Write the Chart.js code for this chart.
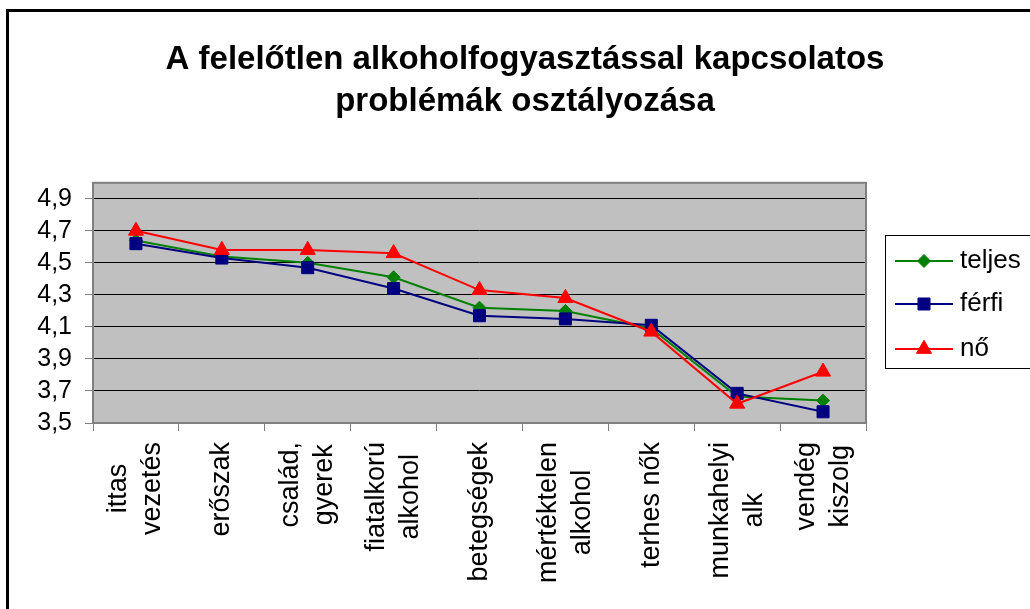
<!DOCTYPE html>
<html>
<head>
<meta charset="utf-8">
<script src="https://cdn.jsdelivr.net/npm/chart.js@4"></script>
<style>
  html, body { margin: 0; padding: 0; background: #fff; }
  canvas { display: block; }
</style>
</head>
<body>
<canvas id="chart" width="1030" height="609"></canvas>
<script>
const titleLines = ['A felelőtlen alkoholfogyasztással kapcsolatos', 'problémák osztályozása'];
const categories = [
  ['ittas', 'vezetés'], ['erőszak'], ['család,', 'gyerek'], ['fiatalkorú', 'alkohol'],
  ['betegségek'], ['mértéktelen', 'alkohol'], ['terhes nők'], ['munkahelyi', 'alk'], ['vendég', 'kiszolg']
];
const seriesNames = ['teljes', 'férfi', 'nő'];
const teljes = [4.64, 4.54, 4.50, 4.41, 4.22, 4.20, 4.09, 3.665, 3.64];
const ferfi = [4.62, 4.53, 4.47, 4.34, 4.17, 4.15, 4.11, 3.685, 3.57];
const no = [4.70, 4.58, 4.58, 4.56, 4.33, 4.28, 4.07, 3.62, 3.82];
const yTicks = [3.5, 3.7, 3.9, 4.1, 4.3, 4.5, 4.7, 4.9];

const FONT = "'Liberation Sans', Arial, sans-serif";

// grey plot area with a grey frame, like the old Excel charts
const plotFrame = {
  id: 'plotFrame',
  beforeDraw(chart) {
    const {ctx, chartArea: a} = chart;
    ctx.save();
    ctx.fillStyle = '#c0c0c0';
    ctx.fillRect(a.left, a.top, a.right - a.left, a.bottom - a.top);
    ctx.restore();
  },
  beforeDatasetsDraw(chart) {
    const {ctx, chartArea: a} = chart;
    ctx.save();
    ctx.strokeStyle = '#808080';
    ctx.lineWidth = 2;
    ctx.strokeRect(a.left, a.top, a.right - a.left, a.bottom - a.top);
    ctx.restore();
  },
  afterDraw(chart) {
    // black frame round the whole chart (right and bottom edges fall outside)
    const ctx = chart.ctx;
    ctx.save();
    ctx.strokeStyle = '#000';
    ctx.lineWidth = 3;
    ctx.strokeRect(7.5, 10.5, 1100, 700);
    ctx.restore();
  }
};

// title is centred over the whole picture, not only the part left of the legend
const titleShift = {
  id: 'titleShift',
  afterLayout(chart) {
    if (chart.titleBlock) {
      chart.titleBlock.left = 0;
      chart.titleBlock.right = 1050;
    }
  }
};

// rotated category labels, lines centred on each other (Excel style)
const xLabels = {
  id: 'xLabels',
  afterDraw(chart) {
    const ctx = chart.ctx;
    const scale = chart.scales.x;
    const top = scale.top + 19;
    const pitch = 34;
    ctx.save();
    ctx.font = '27px ' + FONT;
    ctx.fillStyle = '#000';
    ctx.textAlign = 'center';
    ctx.textBaseline = 'middle';
    chart.data.labels.forEach((lines, i) => {
      const x = scale.getPixelForTick(i);
      const maxW = Math.max(...lines.map(t => ctx.measureText(t).width));
      lines.forEach((t, j) => {
        ctx.save();
        ctx.translate(x + (j - (lines.length - 1) / 2) * pitch, top + maxW / 2);
        ctx.rotate(-Math.PI / 2);
        ctx.fillText(t, 0, 0);
        ctx.restore();
      });
    });
    ctx.restore();
  }
};

function drawMarker(ctx, style, r, x, y, color) {
  if (Chart.helpers && Chart.helpers.drawPoint) {
    ctx.fillStyle = color;
    ctx.strokeStyle = color;
    ctx.lineWidth = 1;
    Chart.helpers.drawPoint(ctx, {pointStyle: style, radius: r, rotation: 0, borderWidth: 1}, x, y);
  }
}

// legend with line + marker, in a black box
const boxLegend = {
  id: 'boxLegend',
  afterDraw(chart) {
    const ctx = chart.ctx;
    const box = {x: 885.5, y: 235.5, w: 160, h: 133};
    ctx.save();
    ctx.strokeStyle = '#000';
    ctx.lineWidth = 1;
    ctx.strokeRect(box.x, box.y, box.w, box.h);
    const rows = [261, 304, 349];
    chart.data.datasets.forEach((ds, i) => {
      const y = rows[i];
      ctx.strokeStyle = ds.borderColor;
      ctx.lineWidth = 2;
      ctx.beginPath();
      ctx.moveTo(895, y);
      ctx.lineTo(953, y);
      ctx.stroke();
      drawMarker(ctx, ds.pointStyle, ds.pointRadius, 924, y, ds.borderColor);
      ctx.fillStyle = '#000';
      ctx.font = '26px ' + FONT;
      ctx.textAlign = 'left';
      ctx.textBaseline = 'middle';
      ctx.fillText(ds.label, 960, y);
    });
    ctx.restore();
  }
};

function lineSet(label, data, color, style, radius, order) {
  return {
    label: label,
    data: data,
    borderColor: color,
    backgroundColor: color,
    borderWidth: 2,
    pointStyle: style,
    pointRadius: radius,
    pointBorderWidth: 1,
    pointBorderColor: color,
    pointBackgroundColor: color,
    tension: 0,
    order: order
  };
}

new Chart(document.getElementById('chart'), {
  type: 'line',
  data: {
    labels: categories,
    datasets: [
      lineSet(seriesNames[0], teljes, '#008000', 'rectRot', 6.5, 3),
      lineSet(seriesNames[1], ferfi, '#000080', 'rect', 8.5, 2),
      lineSet(seriesNames[2], no, '#ff0000', 'triangle', 8.7, 1)
    ]
  },
  options: {
    responsive: false,
    animation: false,
    devicePixelRatio: 1,
    layout: {padding: {left: 0, right: 164, top: 0, bottom: 0}},
    plugins: {
      legend: {display: false},
      tooltip: {enabled: false},
      title: {
        display: true,
        text: titleLines,
        color: '#000',
        font: {family: FONT, size: 33, weight: 'bold', lineHeight: 1.3},
        padding: {top: 38, bottom: 59}
      }
    },
    scales: {
      x: {
        type: 'category',
        offset: true,
        border: {display: false},
        grid: {offset: true, drawOnChartArea: false, drawTicks: true, tickLength: 8, tickColor: '#808080', tickWidth: 1},
        ticks: {display: false, autoSkip: false},
        afterFit(scale) { scale.height = 186; }
      },
      y: {
        min: 3.5,
        max: 5.0,
        border: {display: false},
        grid: {color: '#000', lineWidth: 1, drawTicks: true, tickLength: 8, tickColor: '#808080'},
        ticks: {
          color: '#000', padding: 13,
          font: {family: FONT, size: 25},
          callback: v => v.toFixed(1).replace('.', ',')
        },
        afterBuildTicks(scale) { scale.ticks = yTicks.map(v => ({value: v})); },
        afterFit(scale) { scale.width = 93; }
      }
    }
  },
  plugins: [plotFrame, titleShift, xLabels, boxLegend]
});
</script>
</body>
</html>
